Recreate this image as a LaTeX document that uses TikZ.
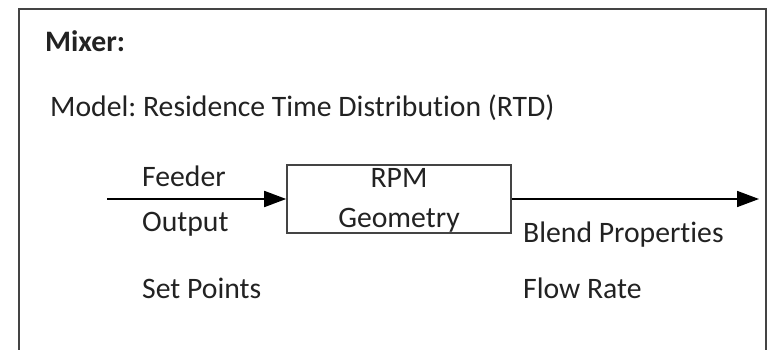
\documentclass[tikz,border=0pt]{standalone}
\usepackage{fontspec}
\setmainfont[Ligatures=NoCommon]{Carlito}
\usetikzlibrary{arrows.meta}
\definecolor{txt}{HTML}{222222}
\definecolor{frm}{HTML}{444444}
\frenchspacing
\begin{document}
\begin{tikzpicture}[x=1pt,y=-1pt,
  lbl/.style={anchor=base west,inner sep=0pt,text=txt,font=\fontsize{29.7}{34}\selectfont},
  clbl/.style={anchor=base,inner sep=0pt,text=txt,font=\fontsize{29.7}{34}\selectfont},
  blk/.style={draw=frm,line width=1.6pt,minimum width=224pt,minimum height=68pt,inner sep=0pt},
  arr/.style={draw=black,line width=1.8pt,-{Triangle[length=22pt,width=16pt]}}]
\useasboundingbox (0,0) rectangle (769,350);
\draw[frm,line width=2pt] (19,352) -- (19,9) -- (766,9) -- (766,352);
\node[lbl,font=\fontsize{29.7}{34}\selectfont\bfseries] (mixer) at (45,52) {Mixer:};
\node[lbl] (model) at (50,117) {Model: Residence Time Distribution (RTD)};
\node[blk] (box) at (399,199) {};
\node[clbl] (rpm) at (399,188) {RPM};
\node[clbl] (geo) at (399,228) {Geometry};
\coordinate (in) at (107,199);
\coordinate (out) at (759,199);
\draw[arr] (in) -- (box.west);
\draw[arr] (box.east) -- (out);
\node[lbl] (feeder) at (142,186) {Feeder};
\node[lbl] (output) at (142,231) {Output};
\node[lbl] (setp) at (142,298) {Set Points};
\node[lbl] (blend) at (523,242) {Blend Properties};
\node[lbl] (flow) at (523,298) {Flow Rate};
\end{tikzpicture}
\end{document}
